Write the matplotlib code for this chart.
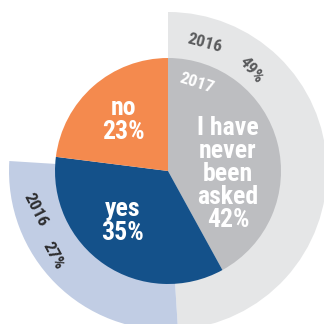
import matplotlib
matplotlib.use("Agg")
import matplotlib.pyplot as plt

categories = ["I have\nnever\nbeen\nasked", "yes", "no"]
values_2017 = [42, 35, 23]
values_2016 = [49, 27]  # "I have never been asked", "yes"

inner_colors = ["#BDBEC1", "#14518A", "#F48A4E"]
outer_colors = ["#E5E6E7", "#C1CDE4"]

plt.rcParams["font.family"] = ["Roboto Condensed", "DejaVu Sans"]

fig = plt.figure(figsize=(3.24, 3.24), dpi=100)
ax = fig.add_axes([0, 0, 1, 1])
cx, cy = 168, 153
R_out, R_in = 159, 113

rest = 100 - sum(values_2016)
ax.pie(values_2016 + [rest], colors=outer_colors + ["none"], radius=R_out,
       center=(cx, cy), startangle=90, counterclock=False,
       wedgeprops=dict(linewidth=0))
ax.pie(values_2017, colors=inner_colors, radius=R_in, center=(cx, cy),
       startangle=90, counterclock=False, wedgeprops=dict(linewidth=0))

ax.set_xlim(0, 324)
ax.set_ylim(0, 324)
ax.set_aspect("equal")
ax.axis("off")

def T(x, y, s, size, color, rot=0, weight="bold", ls=1.0):
    ax.text(x, 324 - y, s, fontsize=size, color=color, rotation=rot,
            ha="center", va="center", fontweight=weight,
            rotation_mode="anchor", linespacing=ls, multialignment="center")

T(228, 174, f"{categories[0]}\n{values_2017[0]}%", 18.5, "white", ls=0.95)
T(123, 221, f"{categories[1]}\n{values_2017[1]}%", 18.5, "white", ls=0.95)
T(123, 120, f"{categories[2]}\n{values_2017[2]}%", 18.5, "white", ls=0.95)

T(197, 83, "2017", 12.5, "white", rot=-18)
T(205, 43, "2016", 12.5, "#5A5B5D", rot=-15)
T(251, 70, f"{values_2016[0]}%", 12.5, "#5A5B5D", rot=-50)
T(35, 210, "2016", 12.5, "#2E2E30", rot=-63)
T(53, 256, f"{values_2016[1]}%", 12.5, "#2E2E30", rot=-62)

fig.savefig("out.png", dpi=100)
